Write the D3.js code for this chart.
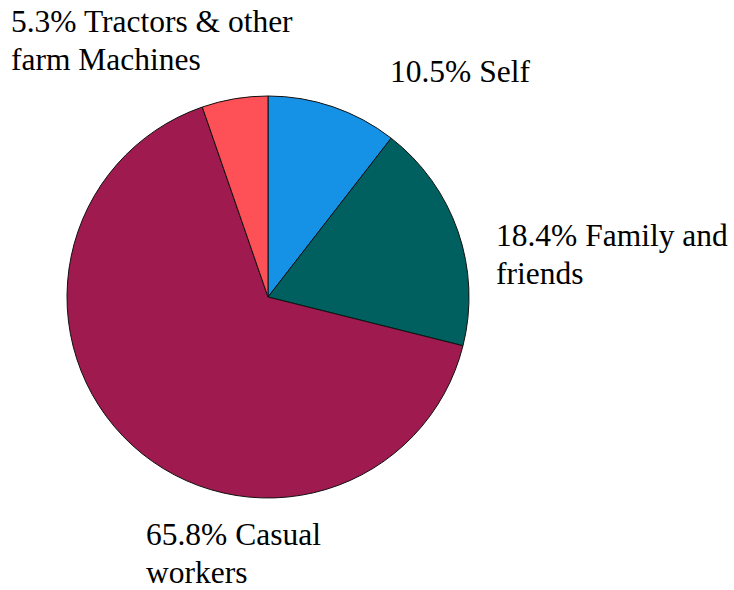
<!DOCTYPE html>
<html>
<head>
<meta charset="utf-8">
<script src="https://cdn.jsdelivr.net/npm/d3@7"></script>
</head>
<body style="margin:0">
<svg id="chart" width="734" height="590"></svg>
<script>
const categories = ["Self", "Family and friends", "Casual workers", "Tractors & other farm Machines"];
const values = [10.5, 18.4, 65.8, 5.3];
const colors = ["#1591e6", "#005f5f", "#9e1a4f", "#fe5057"];
const labelLines = [
  ["10.5% Self"],
  ["18.4% Family and", "friends"],
  ["65.8% Casual", "workers"],
  ["5.3% Tractors & other", "farm Machines"]
];

// layout only
const cx = 268, cy = 297, R = 201;
const labelPos = [
  {x: 390, y: 82},
  {x: 496, y: 246},
  {x: 146, y: 545},
  {x: 11, y: 32}
];
const lineH = 38;

const svg = d3.select("#chart");
const data = categories.map((c, i) => ({cat: c, value: values[i], color: colors[i], lines: labelLines[i], pos: labelPos[i]}));

const pie = d3.pie().value(d => d.value).sort(null).startAngle(0).endAngle(2 * Math.PI);
const arc = d3.arc().innerRadius(0).outerRadius(R);

const g = svg.append("g").attr("transform", `translate(${cx},${cy})`);
g.selectAll("path").data(pie(data)).join("path")
  .attr("d", arc)
  .attr("fill", d => d.data.color)
  .attr("stroke", "#111")
  .attr("stroke-width", 1)
  .attr("stroke-linejoin", "round");

data.forEach(d => {
  d.lines.forEach((ln, j) => {
    svg.append("text")
      .attr("x", 0).attr("y", 0)
      .attr("transform", `translate(${d.pos.x},${d.pos.y + j * lineH}) scale(1.05)`)
      .style("font-family", '"Liberation Serif"')
      .style("font-size", "30px")
      .text(ln);
  });
});
</script>
</body>
</html>
